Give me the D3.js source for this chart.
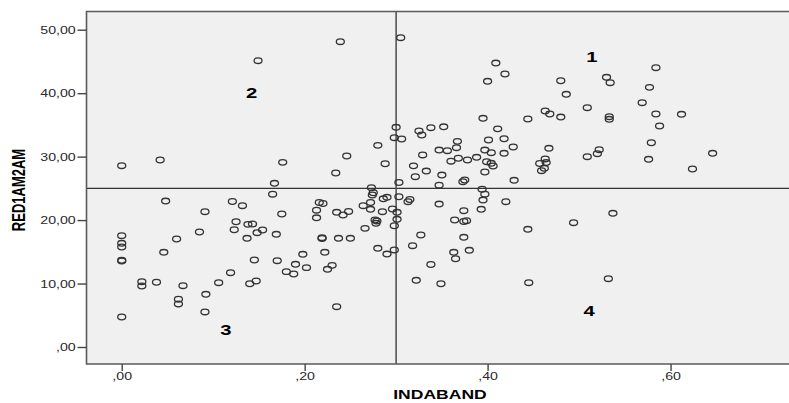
<!DOCTYPE html>
<html>
<head>
<meta charset="utf-8">
<script src="https://cdn.jsdelivr.net/npm/d3@7"></script>
<style>
  html, body { margin: 0; padding: 0; background: #ffffff; }
  svg { display: block; font-family: "Liberation Sans", Arial, sans-serif; }
</style>
</head>
<body>
<svg id="chart" width="789" height="403"></svg>
<script>
// ---- data ----
const indaband = [
  0.000, 0.042, 0.048, 0.000, 0.000, 0.000, 0.000, 0.000, 0.022, 0.022,
  0.038, 0.046, 0.060, 0.067, 0.062, 0.062, 0.000, 0.085, 0.091, 0.121,
  0.132, 0.125, 0.123, 0.138, 0.143, 0.137, 0.148, 0.154, 0.175, 0.169,
  0.145, 0.170, 0.119, 0.106, 0.092, 0.091, 0.140, 0.147, 0.198, 0.190,
  0.180, 0.188, 0.202, 0.222, 0.230, 0.225, 0.235, 0.219, 0.219, 0.237,
  0.250, 0.213, 0.213, 0.216, 0.220, 0.235, 0.242, 0.248, 0.264, 0.272,
  0.272, 0.285, 0.296, 0.277, 0.279, 0.278, 0.266, 0.298, 0.301, 0.298,
  0.280, 0.290, 0.239, 0.149, 0.305, 0.300, 0.298, 0.306, 0.280, 0.246,
  0.288, 0.176, 0.234, 0.167, 0.165, 0.273, 0.275, 0.274, 0.303, 0.290,
  0.286, 0.303, 0.315, 0.313, 0.409, 0.419, 0.400, 0.480, 0.486, 0.509,
  0.463, 0.468, 0.480, 0.444, 0.395, 0.411, 0.401, 0.418, 0.428, 0.467,
  0.522, 0.520, 0.509, 0.463, 0.464, 0.457, 0.462, 0.459, 0.404, 0.406,
  0.399, 0.397, 0.418, 0.404, 0.397, 0.429, 0.388, 0.378, 0.368, 0.360,
  0.367, 0.366, 0.356, 0.347, 0.352, 0.338, 0.325, 0.328, 0.329, 0.319,
  0.333, 0.321, 0.350, 0.347, 0.373, 0.375, 0.394, 0.397, 0.395, 0.420,
  0.347, 0.584, 0.530, 0.534, 0.577, 0.569, 0.584, 0.612, 0.533, 0.533,
  0.588, 0.579, 0.646, 0.576, 0.624, 0.374, 0.393, 0.364, 0.374, 0.377,
  0.494, 0.444, 0.327, 0.374, 0.318, 0.363, 0.380, 0.365, 0.338, 0.322,
  0.349, 0.445, 0.537, 0.532, 0.301
];
const red1am2am = [
  28.57, 29.47, 23.00, 17.54, 16.34, 15.76, 13.66, 13.55, 10.29, 9.61,
  10.20, 14.92, 17.02, 9.66, 7.52, 6.78, 4.73, 18.12, 21.32, 22.93,
  22.27, 19.74, 18.48, 19.33, 19.38, 17.13, 18.01, 18.44, 20.96, 17.76,
  13.71, 13.60, 11.71, 10.13, 8.30, 5.52, 9.97, 10.40, 14.61, 13.03,
  11.87, 11.50, 12.50, 14.92, 12.87, 12.24, 6.35, 17.22, 17.10, 17.13,
  17.13, 21.56, 20.36, 22.77, 22.61, 21.23, 20.80, 21.35, 22.27, 22.77,
  21.70, 21.32, 21.75, 20.01, 19.86, 19.49, 18.70, 19.11, 20.12, 15.29,
  15.55, 14.65, 48.11, 45.12, 48.74, 34.62, 32.98, 32.78, 31.78, 30.10,
  28.88, 29.10, 27.42, 25.80, 24.08, 25.10, 24.31, 23.95, 25.92, 23.59,
  23.35, 23.68, 23.24, 22.90, 44.75, 43.02, 41.87, 41.96, 39.82, 37.71,
  37.19, 36.72, 36.24, 35.93, 36.04, 34.38, 32.62, 32.82, 31.52, 31.31,
  31.09, 30.46, 29.99, 29.63, 29.07, 28.92, 28.16, 27.78, 28.95, 28.52,
  29.20, 27.58, 30.52, 30.62, 31.04, 26.27, 29.89, 29.47, 29.74, 29.28,
  32.41, 31.41, 30.93, 31.04, 34.70, 34.56, 34.04, 33.41, 30.26, 28.55,
  27.73, 26.84, 27.10, 25.50, 26.05, 26.32, 24.87, 24.08, 23.16, 22.90,
  22.53, 44.01, 42.50, 41.65, 40.92, 38.50, 36.72, 36.67, 36.29, 35.88,
  34.83, 32.19, 30.52, 29.58, 28.05, 21.48, 21.70, 20.01, 19.78, 19.90,
  19.59, 18.55, 17.65, 17.29, 15.96, 14.92, 15.24, 13.91, 13.00, 10.51,
  9.97, 10.13, 21.07, 10.76, 21.23
];
const xTicks = [0, 0.2, 0.4, 0.6];
const yTicks = [0, 10, 20, 30, 40, 50];
const xRefLine = 0.30;
const yRefLine = 25;
const quadLabels = ["1", "2", "3", "4"];
const quadX = [0.514, 0.142, 0.114, 0.511];
const quadY = [45.7, 40.07, 2.68, 5.67];
const xTitle = "INDABAND";
const yTitle = "RED1AM2AM";

// ---- layout ----
(function () {
const svg = d3.select("#chart");
const pLeft = 86.5, pTop = 11.5, pBottom = 364, pRight = 789;
const SX = 1.35; // horizontal stretch of the reference text

const x = d3.scaleLinear().domain([-0.0385, 0.7295]).range([pLeft, pRight]);
const y = d3.scaleLinear().domain([-2.68, 52.87]).range([pBottom, pTop]);

const fmt = v => {
  const s = d3.format(".2f")(v).replace(".", ",");
  return s.startsWith("0,") ? s.slice(1) : s;
};

// plot background
svg.append("rect")
  .attr("x", pLeft).attr("y", pTop)
  .attr("width", 820 - pLeft).attr("height", pBottom - pTop)
  .attr("fill", "#f0f0f0");

// reference lines
svg.append("line")
  .attr("x1", pLeft).attr("x2", 820)
  .attr("y1", y(yRefLine)).attr("y2", y(yRefLine))
  .attr("stroke", "#333").attr("stroke-width", 1.1);
svg.append("line")
  .attr("x1", x(xRefLine)).attr("x2", x(xRefLine))
  .attr("y1", pTop).attr("y2", pBottom)
  .attr("stroke", "#555").attr("stroke-width", 1.6);

// points
svg.append("g")
  .selectAll("ellipse")
  .data(d3.range(indaband.length))
  .join("ellipse")
  .attr("cx", i => x(indaband[i]))
  .attr("cy", i => y(red1am2am[i]))
  .attr("rx", 4.0)
  .attr("ry", 2.8)
  .attr("fill", "none")
  .attr("stroke", "#333")
  .attr("stroke-width", 1.3);

// frame
svg.append("path")
  .attr("d", `M820,${pTop}H${pLeft}V${pBottom}H820`)
  .attr("fill", "none")
  .attr("stroke", "#5a5a5a")
  .attr("stroke-width", 1.6);

// axes
const yAxis = svg.append("g")
  .attr("transform", `translate(${pLeft},0)`)
  .call(d3.axisLeft(y).tickValues(yTicks).tickFormat(fmt).tickSize(9));
yAxis.select(".domain").remove();
yAxis.selectAll(".tick line").attr("stroke", "#444").attr("stroke-width", 1.4);
yAxis.selectAll(".tick text")
  .attr("x", -8)
  .attr("dy", "0.35em")
  .attr("transform", `scale(${SX},1)`)
  .attr("fill", "#2a2a2a")
  .style("font-size", "10.5px")
  .style("font-family", "'Liberation Sans', Arial, sans-serif");

const xAxis = svg.append("g")
  .attr("transform", `translate(0,${pBottom})`)
  .call(d3.axisBottom(x).tickValues(xTicks).tickFormat(fmt).tickSize(7));
xAxis.select(".domain").remove();
xAxis.selectAll(".tick line").attr("stroke", "#444").attr("stroke-width", 1.4);
xAxis.selectAll(".tick text")
  .attr("y", 12.5)
  .attr("dy", "0.35em")
  .attr("transform", `scale(${SX},1)`)
  .attr("fill", "#2a2a2a")
  .style("font-size", "10.5px")
  .style("font-family", "'Liberation Sans', Arial, sans-serif");

// quadrant labels
svg.append("g")
  .selectAll("text")
  .data(quadLabels)
  .join("text")
  .attr("transform", (d, i) => `translate(${x(quadX[i])},${y(quadY[i])}) scale(${SX},1)`)
  .attr("text-anchor", "middle")
  .attr("dy", "0.36em")
  .attr("font-weight", "bold")
  .attr("font-size", 15)
  .attr("fill", "#000")
  .text(d => d);

// axis titles
svg.append("text")
  .attr("transform", `translate(440,394) scale(${SX},1)`)
  .attr("text-anchor", "middle")
  .attr("dy", "0.35em")
  .attr("font-weight", "bold")
  .attr("font-size", 13)
  .attr("fill", "#000")
  .text(xTitle);

svg.append("text")
  .attr("transform", `translate(18.5,190) scale(${SX},1) rotate(-90)`)
  .attr("text-anchor", "middle")
  .attr("dy", "0.35em")
  .attr("font-weight", "bold")
  .attr("font-size", 13)
  .attr("fill", "#000")
  .text(yTitle);
})();
</script>
</body>
</html>
